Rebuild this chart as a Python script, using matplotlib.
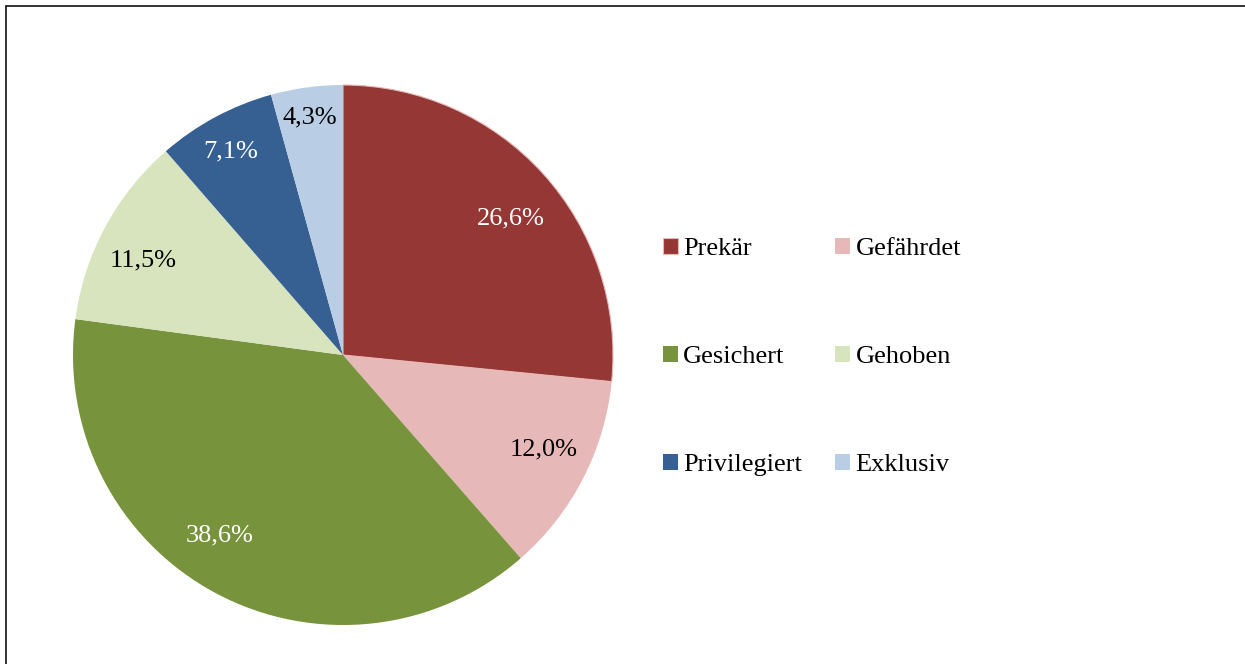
import matplotlib
matplotlib.use("Agg")
import numpy as np
import matplotlib.pyplot as plt
from matplotlib.patches import Rectangle

plt.rcParams["font.family"] = ["Liberation Serif", "DejaVu Serif"]

# Data (percent shares)
categories = ["Prekär", "Gefährdet", "Gesichert", "Gehoben", "Privilegiert", "Exklusiv"]
shares = [26.6, 12.0, 38.6, 11.5, 7.1, 4.3]

colors = ["#953735", "#E6B9B8", "#77933C", "#D7E4BD", "#376092", "#B9CDE5"]
label_colors = ["white", "black", "white", "black", "white", "black"]
# label placement: radial fraction and angular nudge (deg) per slice
label_radius = [0.80, 0.82, 0.81, 0.82, 0.86, 0.89]
label_nudge = [-3.0, 2.0, -6.0, 3.0, 0.7, 0.2]

W, H = 1245, 664
fig = plt.figure(figsize=(W / 100, H / 100), dpi=100)

cx, cy, r = 343, 355, 270
ax = fig.add_axes([(cx - r) / W, (H - cy - r) / H, 2 * r / W, 2 * r / H])

wedges, texts, autotexts = ax.pie(
    shares, colors=colors, startangle=90, counterclock=False,
    radius=1.0, autopct=lambda p: "", pctdistance=0.8,
    wedgeprops=dict(linewidth=0),
)
wedges[0].set_edgecolor("#E6B9B8")
wedges[0].set_linewidth(0.8)

for w, t, v, c, rad, nd in zip(wedges, autotexts, shares, label_colors,
                               label_radius, label_nudge):
    ang = np.deg2rad((w.theta1 + w.theta2) / 2 + nd)
    t.set_position((rad * np.cos(ang), rad * np.sin(ang)))
    t.set_text(f"{v:.1f}%".replace(".", ","))
    t.set_color(c)
    t.set_fontsize(19)

ax.set_xlim(-1, 1)
ax.set_ylim(-1, 1)
ax.set_aspect("equal")

# legend is filled column-major, reorder so it reads row by row
order = [0, 2, 4, 1, 3, 5]
fig.legend([wedges[i] for i in order], [categories[i] for i in order],
           ncol=2, loc="center left",
           bbox_to_anchor=(663 / W, (H - 357) / H), frameon=False,
           fontsize=19, borderpad=0, borderaxespad=0,
           handlelength=0.55, handleheight=0.55, handletextpad=0.22,
           columnspacing=1.25, labelspacing=3.25)

# outer frame (only top and left edges visible in the reference crop)
fig.add_artist(Rectangle((6 / W, -0.1), 1.2, 0.1 + (H - 6.5) / H,
                         fill=False, edgecolor="#222222", linewidth=1.3,
                         transform=fig.transFigure))

fig.savefig("out.png", dpi=100)
